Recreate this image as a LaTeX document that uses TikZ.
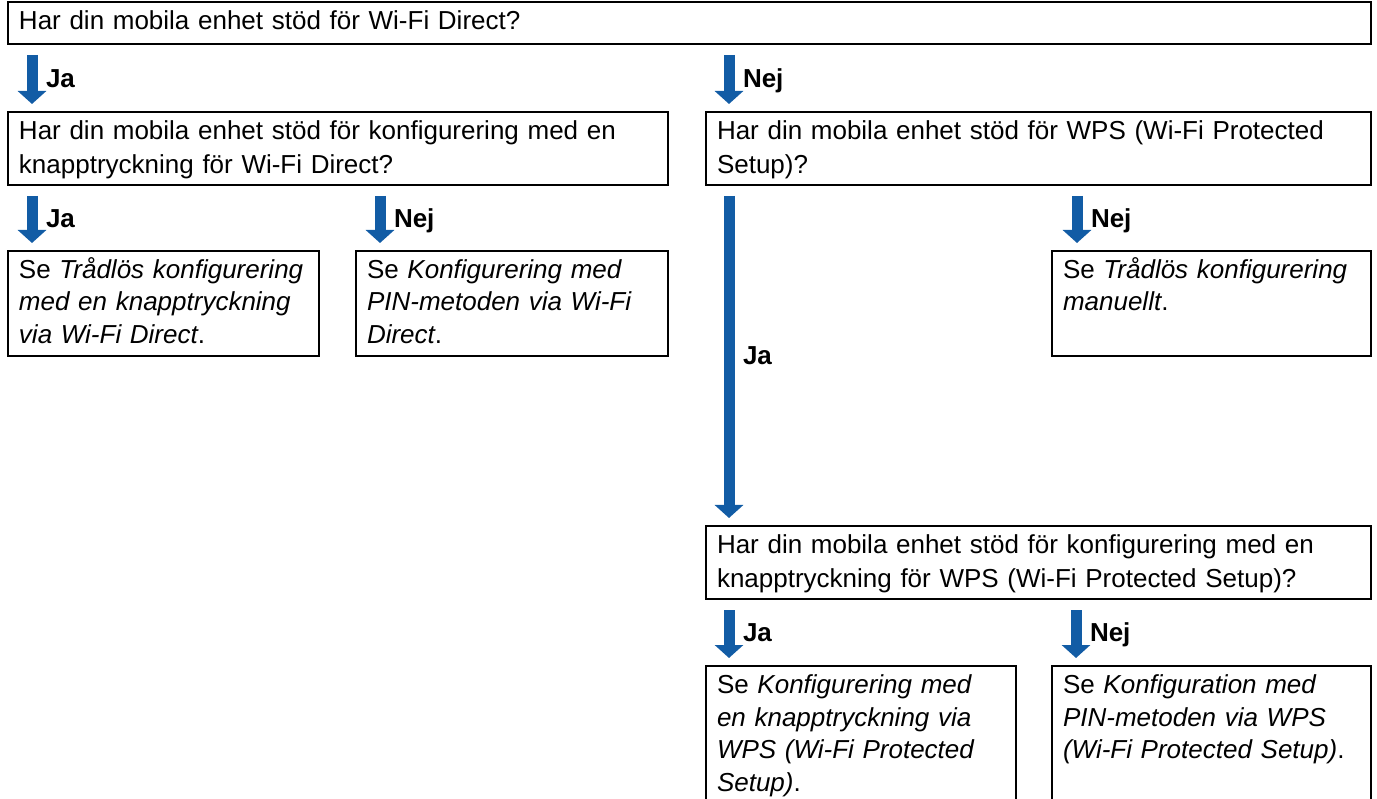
\documentclass[tikz,border=0pt]{standalone}
\usepackage{fontspec}
\setmainfont{Liberation Sans}
\usetikzlibrary{arrows.meta}
\definecolor{flowblue}{RGB}{18,92,165}
\tikzset{
  box_n/.style = {draw=black, line width=2pt, rectangle, anchor=north west,
    align=left, inner xsep=11pt, inner ysep=7pt, text height=20.5pt},
  q_n/.style = {box_n, font=\fontsize{26}{34}\selectfont},
  a_n/.style = {box_n, font=\fontsize{26}{32.5}\selectfont},
  svar/.style = {midway, anchor=west, xshift=14pt, inner sep=0pt, outer sep=0pt,
    text height=18.6pt, text depth=0pt, font=\fontsize{26}{30}\selectfont\bfseries},
  pil/.style = {draw=flowblue, line width=11pt, shorten <=10pt, shorten >=7pt,
    -{Triangle[width=28pt, length=13pt]}}}

\begin{document}
\begin{tikzpicture}[x=1pt, y=-1pt]
\useasboundingbox (0,0) rectangle (1377,799);

\node [q_n, text width=1341pt, text depth=7.5pt] (q0) at (7,1)
  {Har din mobila enhet stöd för Wi-Fi Direct?};
\node [q_n, text width=638pt, text depth=38.5pt] (q1) at (7,111)
  {Har din mobila enhet stöd för konfigurering med en\\knapptryckning för Wi-Fi Direct?};
\node [q_n, text width=643pt, text depth=38.5pt] (q2) at (705,111)
  {Har din mobila enhet stöd för WPS (Wi-Fi Protected\\Setup)?};
\node [a_n, text width=289pt, text depth=70.5pt] (a1) at (7,250)
  {Se \textit{Trådlös konfigurering}\\\textit{med en knapptryckning}\\\textit{via Wi-Fi Direct}.};
\node [a_n, text width=290pt, text depth=70.5pt] (a2) at (355,250)
  {Se \textit{Konfigurering med}\\\textit{PIN-metoden via Wi-Fi}\\\textit{Direct}.};
\node [a_n, text width=297pt, text depth=70.5pt] (a3) at (1051,250)
  {Se \textit{Trådlös konfigurering}\\\textit{manuellt}.};
\node [q_n, text width=643pt, text depth=38.5pt] (q3) at (705,525)
  {Har din mobila enhet stöd för konfigurering med en\\knapptryckning för WPS (Wi-Fi Protected Setup)?};
\node [a_n, text width=288pt, text depth=160pt] (a4) at (705,665)
  {Se \textit{Konfigurering med}\\\textit{en knapptryckning via}\\\textit{WPS (Wi-Fi Protected}\\\textit{Setup)}.};
\node [a_n, text width=297pt, text depth=160pt] (a5) at (1051,665)
  {Se \textit{Konfiguration med}\\\textit{PIN-metoden via WPS}\\\textit{(Wi-Fi Protected Setup)}.};

\draw [pil] ([xshift=25pt]q1.north west |- q0.south) -- ([xshift=25pt]q1.north west) node [svar] {Ja};
\draw [pil] ([xshift=24pt]q2.north west |- q0.south) -- ([xshift=24pt]q2.north west) node [svar] {Nej};
\draw [pil] ([xshift=25pt]a1.north west |- q1.south) -- ([xshift=25pt]a1.north west) node [svar] {Ja};
\draw [pil] ([xshift=25pt]a2.north west |- q1.south) -- ([xshift=25pt]a2.north west) node [svar] {Nej};
\draw [pil] ([xshift=24pt]q3.north west |- q2.south) -- ([xshift=24pt]q3.north west) node [svar] {Ja};
\draw [pil] ([xshift=26pt]a3.north west |- q2.south) -- ([xshift=26pt]a3.north west) node [svar] {Nej};
\draw [pil] ([xshift=24pt]a4.north west |- q3.south) -- ([xshift=24pt]a4.north west) node [svar] {Ja};
\draw [pil] ([xshift=25pt]a5.north west |- q3.south) -- ([xshift=25pt]a5.north west) node [svar] {Nej};
\end{tikzpicture}
\end{document}
